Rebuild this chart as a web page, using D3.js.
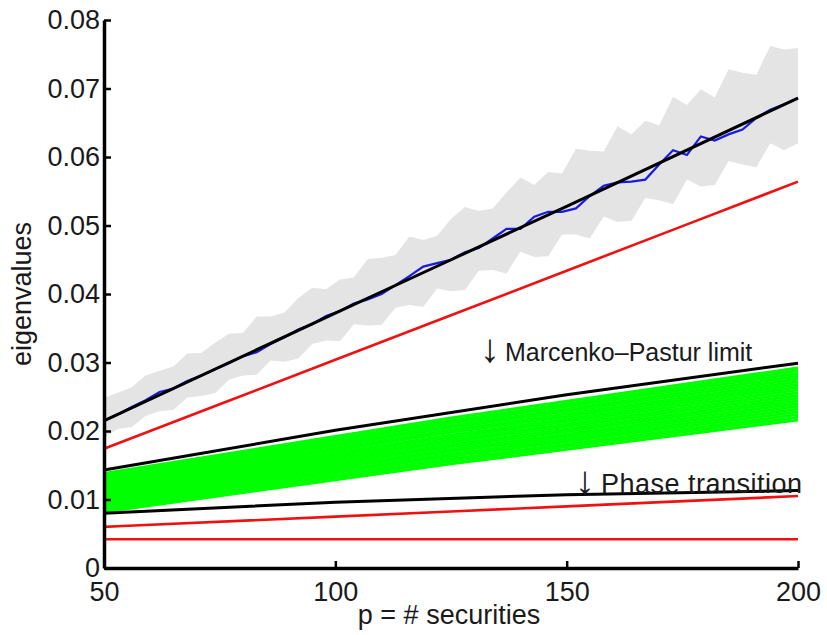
<!DOCTYPE html>
<html>
<head>
<meta charset="utf-8">
<style>
  body { margin: 0; background: #fff; }
  text { font-family: "Liberation Sans", Arial, Helvetica, sans-serif; fill: #1a1a1a; }
</style>
</head>
<body>
<svg class="chart"></svg>

<script src="https://d3js.org/d3.v7.min.js"></script>
<script>
// values
const xTicks = [50, 100, 150, 200];
const yTicks = [0, 0.01, 0.02, 0.03, 0.04, 0.05, 0.06, 0.07, 0.08];
const yTickLabels = ["0", "0.01", "0.02", "0.03", "0.04", "0.05", "0.06", "0.07", "0.08"];

// sampled p for the noisy series
const pSamples = [50, 53, 56, 59, 62, 65, 68, 71, 74, 77, 80, 83, 86, 89, 92, 95, 98,
  101, 104, 107, 110, 113, 116, 119, 122, 125, 128, 131, 134, 137, 140, 143, 146, 149,
  152, 155, 158, 161, 164, 167, 170, 173, 176, 179, 182, 185, 188, 191, 194, 197, 200];

// grey envelope (upper / lower)
const greyHi = [.0248, .0256, .0264, .0281, .0288, .0294, .0313, .0314, .0329, .0342, .0343,
  .0367, .0367, .0373, .0394, .0409, .0407, .0421, .0424, .0451, .0453, .0457, .0484, .0479,
  .0485, .0510, .0527, .0521, .0525, .0548, .0570, .0559, .0578, .0576, .0612, .0609, .0608,
  .0645, .0633, .0653, .0646, .0688, .0676, .0699, .0687, .0728, .0723, .0720, .0762, .0757, .0759];
const greyLo = [.0191, .0203, .0206, .0222, .0229, .0231, .0249, .0251, .0255, .0275, .0281,
  .0282, .0303, .0301, .0306, .0327, .0332, .0331, .0356, .0354, .0355, .0380, .0384, .0381,
  .0408, .0404, .0406, .0434, .0435, .0430, .0462, .0454, .0455, .0487, .0487, .0481, .0513,
  .0505, .0507, .0540, .0537, .0531, .0567, .0557, .0559, .0594, .0589, .0585, .0620, .0610, .0620];

// blue empirical largest eigenvalue
const blueLine = [.0215, .0224, .0235, .0245, .0257, .0262, .0273, .0281, .0290, .0299, .0309,
  .0315, .0327, .0337, .0348, .0356, .0368, .0375, .0386, .0392, .0400, .0413, .0426, .0440,
  .0445, .0450, .0461, .0467, .0481, .0495, .0495, .0513, .0520, .0520, .0525, .0543, .0558,
  .0563, .0564, .0567, .0589, .0610, .0603, .0630, .0624, .0633, .0640, .0657, .0669, .0677, .0686];

// smooth curves, given at p = 50, 100, 150, 200
const pKnots = [50, 100, 150, 200];
const blackTop = [.0215, .0372, .0528, .0686];
const redTop = [.0174, .0304, .0434, .0564];
const blackMP = [.0143, .0201, .0253, .0299];
const blackPhase = [.0080, .0096, .0107, .0113];
const redMid = [.0060, .0075, .0090, .0105];
const redLow = [.0042, .0042, .0042, .0042];

// green bundle, given at p = 50, 125, 200
const pGreen = [50, 125, 200];
const greenStart = [.0082, .0085, .0088, .0091, .0094, .0097, .0100, .0103, .0106, .0109,
  .0112, .0114, .0117, .0120, .0123, .0126, .0129, .0132, .0135, .0138];
const greenMid = [.0152, .0156, .0159, .0163, .0166, .0170, .0173, .0177, .0180, .0184,
  .0187, .0191, .0194, .0198, .0201, .0205, .0208, .0212, .0215, .0219];
const greenEnd = [.0216, .0220, .0224, .0228, .0232, .0236, .0240, .0244, .0248, .0252,
  .0256, .0260, .0264, .0268, .0272, .0276, .0280, .0284, .0288, .0292];

width = 827
height = 635
margin = ({top: 20, right: 29, bottom: 67, left: 104})

x = d3.scaleLinear().domain([50, 200]).range([margin.left, width - margin.right])
y = d3.scaleLinear().domain([0, 0.08]).range([height - margin.bottom, margin.top])

const svg = d3.select("svg")
    .attr("width", width)
    .attr("height", height)
    .attr("viewBox", [0, 0, width, height]);

const line = d3.line().x(d => x(d[0])).y(d => y(d[1]));
const smooth = d3.line().x(d => x(d[0])).y(d => y(d[1])).curve(d3.curveMonotoneX);
const zipK = vals => pKnots.map((p, i) => [p, vals[i]]);

// grey band
svg.append("path")
    .datum(pSamples.map((p, i) => [p, greyLo[i], greyHi[i]]))
    .attr("fill", "#e4e4e4")
    .attr("d", d3.area().x(d => x(d[0])).y0(d => y(d[1])).y1(d => y(d[2])));

// blue
svg.append("path")
    .datum(pSamples.map((p, i) => [p, blueLine[i]]))
    .attr("fill", "none").attr("stroke", "#1a1ae6").attr("stroke-width", 2.2)
    .attr("d", line);

// green bundle
svg.append("g")
    .attr("fill", "none").attr("stroke", "#00ff00").attr("stroke-width", 3)
  .selectAll("path")
  .data(greenStart.map((s, i) => [[pGreen[0], s], [pGreen[1], greenMid[i]], [pGreen[2], greenEnd[i]]]))
  .join("path")
    .attr("d", smooth);

// red lines
svg.append("g")
    .attr("fill", "none").attr("stroke", "#ee1111").attr("stroke-width", 2.6)
  .selectAll("path")
  .data([redTop, redMid, redLow].map(zipK))
  .join("path")
    .attr("d", smooth);

// black lines
svg.append("g")
    .attr("fill", "none").attr("stroke", "#000").attr("stroke-width", 3)
  .selectAll("path")
  .data([blackTop, blackMP, blackPhase].map(zipK))
  .join("path")
    .attr("d", smooth);

// annotations
const note = (ax, tx, ty, label, size, spacing) => {
  svg.append("text")
      .attr("x", ax).attr("y", ty + 1)
      .attr("text-anchor", "middle")
      .attr("font-size", 40)
      .attr("font-family", "DejaVu Sans, sans-serif")
      .text("\u2193");
  svg.append("text")
      .attr("x", tx).attr("y", ty)
      .attr("font-size", size)
      .attr("letter-spacing", spacing)
      .text(label);
};
note(490, 505, 361, "Marcenko\u2013Pastur limit", 25, 0);
note(585, 601, 493, "Phase transition", 27, 0.5);

// axes
yAxis = g => g
    .attr("transform", `translate(${margin.left},0)`)
    .call(d3.axisLeft(y).tickValues(yTicks).tickFormat((d, i) => yTickLabels[i])
      .tickSizeInner(-7).tickSizeOuter(0).tickPadding(4))
    .call(g => g.select(".domain").attr("stroke-width", 3.5))
    .call(g => g.selectAll(".tick line").attr("stroke-width", 2.5))
    .call(g => g.selectAll("text").attr("font-size", 27).attr("fill", "#1a1a1a")
      .attr("font-family", "Liberation Sans, Arial, sans-serif"));

xAxis = g => g
    .attr("transform", `translate(0,${height - margin.bottom})`)
    .call(d3.axisBottom(x).tickValues(xTicks).tickFormat(d3.format("d"))
      .tickSizeInner(-7).tickSizeOuter(0).tickPadding(14))
    .call(g => g.select(".domain").attr("stroke-width", 3.5))
    .call(g => g.selectAll(".tick line").attr("stroke-width", 2.5))
    .call(g => g.selectAll("text").attr("font-size", 27).attr("fill", "#1a1a1a")
      .attr("font-family", "Liberation Sans, Arial, sans-serif"));

svg.append("g").call(xAxis);
svg.append("g").call(yAxis);

// axis titles
svg.append("text")
    .attr("x", (margin.left + width - margin.right) / 2 - 2)
    .attr("y", 624)
    .attr("text-anchor", "middle")
    .attr("font-size", 27)
    .text("p = # securities");

svg.append("text")
    .attr("transform", `translate(31,${(margin.top + height - margin.bottom) / 2}) rotate(-90)`)
    .attr("text-anchor", "middle")
    .attr("font-size", 27)
    .text("eigenvalues");
</script>
</body>
</html>
